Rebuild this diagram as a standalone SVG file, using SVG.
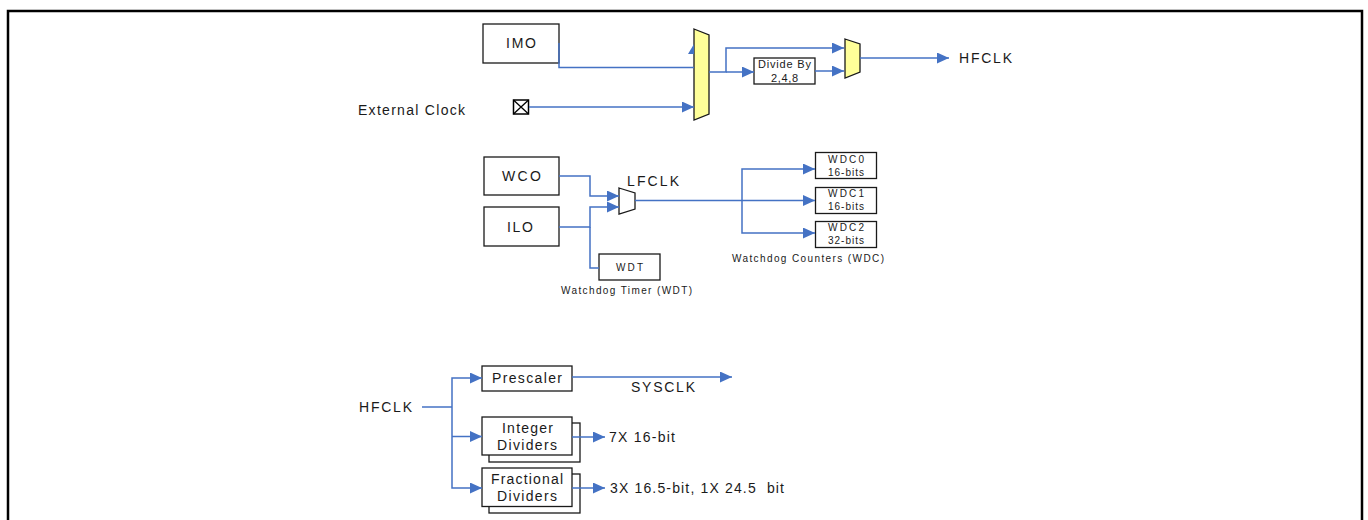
<svg xmlns="http://www.w3.org/2000/svg" width="1368" height="520" viewBox="0 0 1368 520">
<style>
.box{fill:#fff;stroke:#1a1a1a;stroke-width:1.3}
.mux{fill:#FFFF99;stroke:#1a1a1a;stroke-width:1.3}
.muxw{fill:#fff;stroke:#1a1a1a;stroke-width:1.3}
.t{font-family:"Liberation Sans",Arial,sans-serif;font-size:14px;fill:#1a1a1a}
.s{font-family:"Liberation Sans",Arial,sans-serif;font-size:10px;fill:#1a1a1a}
.m{font-family:"Liberation Sans",Arial,sans-serif;font-size:11px;fill:#1a1a1a}
.c{fill:none;stroke:#4472C4;stroke-width:1.5}
.a{marker-end:url(#arr)}
</style>
<defs>
<marker id="arr" markerUnits="userSpaceOnUse" markerWidth="12" markerHeight="11" refX="12" refY="5.5" orient="auto">
<path d="M0,0 L12,5.5 L0,11 z" fill="#4472C4"/>
</marker>
</defs>
<rect x="8" y="11" width="1354" height="600" fill="none" stroke="#000" stroke-width="2.5"/>

<g id="imo"><rect class="box" x="483" y="24" width="76" height="39"/><text class="t" x="506" y="48" textLength="30" lengthAdjust="spacing">IMO</text></g>
<g id="extclk"><text class="t" x="358" y="115" textLength="107" lengthAdjust="spacing">External Clock</text>
<rect x="513.5" y="100" width="15" height="14" fill="#fff" stroke="#000" stroke-width="1.5"/><path d="M513.5,100 L528.5,114 M528.5,100 L513.5,114" stroke="#000" stroke-width="1.3"/></g>
<g id="mux1"><polygon class="mux" points="694,29 709,35 709,114 694,120"/></g>
<g id="divide"><rect class="box" x="754" y="58" width="61" height="26"/><text class="m" x="758" y="68" textLength="53" lengthAdjust="spacing">Divide By</text><text class="m" x="771" y="81.5" textLength="27" lengthAdjust="spacing">2,4,8</text></g>
<g id="mux2"><polygon class="mux" points="845,39 860,44 860,72 845,78"/></g>
<g id="hfclk-out"><text class="t" x="959" y="63" textLength="53" lengthAdjust="spacing">HFCLK</text></g>

<g id="wco"><rect class="box" x="484" y="157" width="75" height="38"/><text class="t" x="502" y="181" textLength="39" lengthAdjust="spacing">WCO</text></g>
<g id="ilo"><rect class="box" x="484" y="207" width="75" height="39"/><text class="t" x="507" y="231.5" textLength="26" lengthAdjust="spacing">ILO</text></g>
<g id="lfclk"><polygon class="muxw" points="619,188 635,193 635,209 619,214"/><text class="t" x="627" y="186" textLength="52" lengthAdjust="spacing">LFCLK</text></g>
<g id="wdt"><rect class="box" x="599" y="254" width="61" height="26"/><text class="s" x="616" y="271" textLength="27" lengthAdjust="spacing">WDT</text><text class="s" x="561" y="293.5" textLength="131" lengthAdjust="spacing">Watchdog Timer (WDT)</text></g>
<g id="wdc0"><rect class="box" x="815.5" y="152.5" width="61" height="26"/><text class="s" x="828" y="163" textLength="36" lengthAdjust="spacing">WDC0</text><text class="s" x="828" y="175.5" textLength="36" lengthAdjust="spacing">16-bits</text></g>
<g id="wdc1"><rect class="box" x="815.5" y="187.5" width="61" height="26"/><text class="s" x="828" y="196.5" textLength="36" lengthAdjust="spacing">WDC1</text><text class="s" x="828" y="209.5" textLength="36" lengthAdjust="spacing">16-bits</text></g>
<g id="wdc2"><rect class="box" x="815.5" y="221.5" width="61" height="26"/><text class="s" x="828" y="230.5" textLength="36" lengthAdjust="spacing">WDC2</text><text class="s" x="828" y="243.5" textLength="36" lengthAdjust="spacing">32-bits</text></g>
<g id="wdc-label"><text class="s" x="732" y="261.5" textLength="152" lengthAdjust="spacing">Watchdog Counters (WDC)</text></g>

<g id="hfclk-in"><text class="t" x="359" y="411.5" textLength="53" lengthAdjust="spacing">HFCLK</text></g>
<g id="prescaler"><rect class="box" x="482" y="366" width="90" height="25"/><text class="t" x="492" y="383" textLength="70" lengthAdjust="spacing">Prescaler</text></g>
<g id="integer"><rect class="box" x="489" y="423" width="91" height="39"/><rect class="box" x="482" y="417" width="90" height="38"/><text class="t" x="502" y="432.5" textLength="51" lengthAdjust="spacing">Integer</text><text class="t" x="497" y="449.5" textLength="60" lengthAdjust="spacing">Dividers</text></g>
<g id="fractional"><rect class="box" x="489" y="474" width="91" height="39"/><rect class="box" x="482" y="468" width="90" height="38.5"/><text class="t" x="491" y="484" textLength="72" lengthAdjust="spacing">Fractional</text><text class="t" x="497" y="501" textLength="60" lengthAdjust="spacing">Dividers</text></g>
<g id="sysclk"><text class="t" x="631" y="391.5" textLength="64" lengthAdjust="spacing">SYSCLK</text></g>
<g id="int-out"><text class="t" x="609" y="441.5" textLength="66" lengthAdjust="spacing">7X 16-bit</text></g>
<g id="frac-out"><text class="t" x="610" y="493" textLength="174" lengthAdjust="spacing" xml:space="preserve">3X 16.5-bit, 1X 24.5  bit</text></g>

<g id="connectors">
<path class="c" d="M559,43 V67.5 H694"/>
<polygon points="688,54 694,44 694,54" fill="#4472C4"/>
<path class="c a" d="M529,107 H694"/>
<path class="c a" d="M709,72 H726 V48 H844"/>
<path class="c a" d="M726,72 H754"/>
<path class="c a" d="M815,71 H844"/>
<path class="c a" d="M860,58 H949"/>
<path class="c a" d="M559,176 H590 V196 H619"/>
<path class="c a" d="M559,227 H590 V207 H619"/>
<path class="c" d="M590,227 V268 H599"/>
<path class="c a" d="M635,200.5 H815"/>
<path class="c a" d="M742,200.5 V169 H815"/>
<path class="c a" d="M742,200.5 V233 H815"/>
<path class="c" d="M422,407 H452"/>
<path class="c a" d="M452,407 V378 H482"/>
<path class="c a" d="M452,407 V488 H482"/>
<path class="c a" d="M452,436.5 H482"/>
<path class="c a" d="M572,377 H732"/>
<path class="c a" d="M572,437 H605"/>
<path class="c a" d="M572,488 H605"/>
</g>
</svg>
